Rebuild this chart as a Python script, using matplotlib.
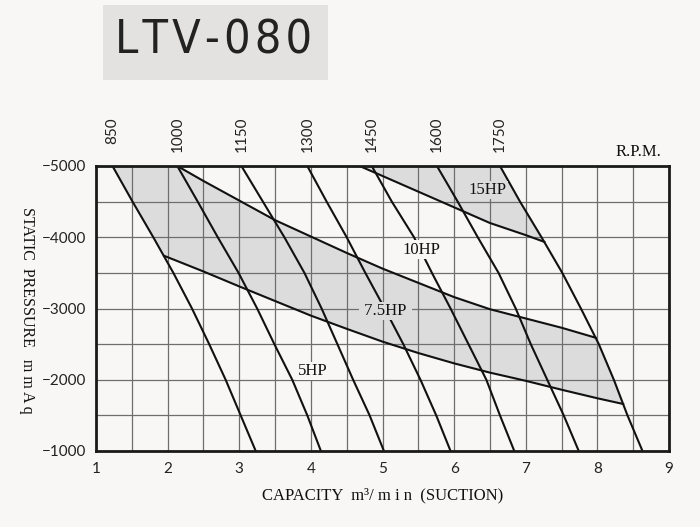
import numpy as np
import matplotlib
matplotlib.use("Agg")
import matplotlib.pyplot as plt
from matplotlib.patches import Polygon, Rectangle

# static pressure levels (mmAq) at which the rpm lines were read
pressure_levels = [-5000, -4500, -4000, -3500, -3000, -2500, -2000, -1500, -1000]

# capacity (m3/min) of each rpm line at those pressure levels
rpm_names = ["850", "1000", "1150", "1300", "1450", "1600", "1750"]
rpm_850 = [1.23, 1.51, 1.80, 2.08, 2.34, 2.58, 2.81, 3.02, 3.23]
rpm_1000 = [2.135, 2.42, 2.70, 2.99, 3.25, 3.49, 3.74, 3.95, 4.14]
rpm_1150 = [3.03, 3.33, 3.63, 3.91, 4.15, 4.37, 4.59, 4.82, 5.02]
rpm_1300 = [3.95, 4.22, 4.50, 4.76, 5.03, 5.29, 5.53, 5.75, 5.95]
rpm_1450 = [4.85, 5.13, 5.44, 5.69, 5.95, 6.20, 6.45, 6.64, 6.84]
rpm_1600 = [5.76, 6.05, 6.33, 6.62, 6.86, 7.07, 7.30, 7.53, 7.74]
rpm_1750 = [6.64, 6.92, 7.22, 7.51, 7.77, 8.02, 8.23, 8.42, 8.63]
rpm_lines = [rpm_850, rpm_1000, rpm_1150, rpm_1300, rpm_1450, rpm_1600, rpm_1750]

# horsepower limit curves
hp75_low_x = [1.95, 2.5, 3.0, 3.5, 4.0, 4.5, 5.0, 5.5, 6.0, 6.5, 7.0, 7.5, 8.0, 8.36]
hp75_low_y = [-3740, -3520, -3310, -3105, -2900, -2715, -2535, -2375, -2230, -2100, -1985, -1860, -1740, -1660]
hp75_up_x = [2.135, 2.5, 3.0, 3.5, 4.0, 4.5, 5.0, 5.5, 6.0, 6.5, 7.0, 7.5, 7.975]
hp75_up_y = [-5000, -4790, -4515, -4240, -4010, -3780, -3560, -3360, -3160, -2990, -2860, -2730, -2590]
hp10_up_x = [4.68, 5.0, 5.5, 6.0, 6.5, 7.0, 7.26]
hp10_up_y = [-5000, -4860, -4640, -4420, -4200, -4030, -3935]

hp_labels = ["15HP", "10HP", "7.5HP", "5HP"]
hp_label_x = [6.47, 5.55, 5.04, 4.02]
hp_label_y = [-4663, -3828, -2965, -2123]

x_ticks = [1, 2, 3, 4, 5, 6, 7, 8, 9]
y_ticks = [-5000, -4000, -3000, -2000, -1000]

BG = "#f8f7f5"
SHADE = "#dcdcdd"
INK = "#111111"

fig = plt.figure(figsize=(7.0, 5.27), dpi=100, facecolor=BG)
ax = fig.add_axes([96 / 700, 76 / 527, 573 / 700, 285 / 527])
ax.set_facecolor(BG)

ax.set_xlim(1, 9)
ax.set_ylim(-1000, -5000)
ax.set_xticks(x_ticks)
ax.set_yticks(y_ticks)
ax.set_xticks(np.arange(1.5, 9, 1.0), minor=True)
ax.set_yticks(np.arange(-4500, -1000, 1000), minor=True)
ax.set_axisbelow(True)
ax.grid(True, which="both", color="#6e6e6e", lw=0.9)
ax.tick_params(which="both", length=0)
ax.tick_params(axis="x", pad=8)
ax.tick_params(axis="y", pad=7)
for lab in ax.get_xticklabels() + ax.get_yticklabels():
    lab.set_family(["Lato", "DejaVu Sans"])
    lab.set_fontsize(11)
    lab.set_color("#222222")
for sp in ax.spines.values():
    sp.set_linewidth(2.0)
    sp.set_color("#1a1a1a")

# 7.5HP band
band75 = [(rpm_850[0], -5000)]
band75 += list(zip(hp75_up_x, hp75_up_y))
band75 += [(x, y) for x, y in zip(rpm_1750, pressure_levels) if hp75_up_y[-1] < y < hp75_low_y[-1]]
band75 += list(zip(hp75_low_x[::-1], hp75_low_y[::-1]))
band75 += [(x, y) for x, y in zip(rpm_850, pressure_levels) if y < hp75_low_y[0]][::-1]
ax.add_patch(Polygon(band75, closed=True, facecolor=SHADE, edgecolor="none", zorder=0.3))

# 15HP band
band15 = [(hp10_up_x[0], -5000)]
band15 += [(x, y) for x, y in zip(rpm_1750, pressure_levels) if y < hp10_up_y[-1]]
band15 += list(zip(hp10_up_x[::-1], hp10_up_y[::-1]))
ax.add_patch(Polygon(band15, closed=True, facecolor=SHADE, edgecolor="none", zorder=0.3))

for line in rpm_lines:
    ax.plot(line, pressure_levels, color=INK, lw=1.5, zorder=2, solid_capstyle="butt")
ax.plot(hp75_low_x, hp75_low_y, color=INK, lw=1.5, zorder=2)
ax.plot(hp75_up_x, hp75_up_y, color=INK, lw=1.5, zorder=2)
ax.plot(hp10_up_x, hp10_up_y, color=INK, lw=1.5, zorder=2)

label_bg = [SHADE, BG, SHADE, BG]
for name, x, y, bg in zip(hp_labels, hp_label_x, hp_label_y, label_bg):
    txt = name if name != "7.5HP" else " 7.5HP "
    ax.text(x, y, txt, ha="center", va="center", fontsize=12,
            family="Liberation Serif", color=INK, zorder=3,
            bbox=dict(boxstyle="square,pad=0.08", facecolor=bg, edgecolor="none"))

# rpm labels above the top edge
for name, line in zip(rpm_names, rpm_lines):
    ax.text(line[0], 1.172, name, transform=ax.get_xaxis_transform(),
            rotation=90, ha="center", va="top", fontsize=11,
            family=["Lato", "DejaVu Sans"], color="#222222")
ax.text(8.57, 1.049, "R.P.M.", transform=ax.get_xaxis_transform(),
        ha="center", va="center", fontsize=12, family="Liberation Serif", color=INK)

ax.set_xlabel("CAPACITY  m\u00b3/ m i n  (SUCTION)", fontsize=12,
              family="Liberation Serif", color=INK, labelpad=8)
fig.text(27 / 700, 1 - 310 / 527, "STATIC  PRESSURE   m m A q", rotation=270,
         ha="center", va="center", fontsize=11.5, family="Liberation Serif", color=INK)

# title plate
fig.patches.append(Rectangle((103 / 700, 1 - 80 / 527), 225 / 700, 75 / 527,
                             transform=fig.transFigure, facecolor="#e3e2e0",
                             edgecolor="none", zorder=0))
fig.text(214 / 700, 1 - 41 / 527, "L\u200aT\u200aV\u200a-\u200a0\u200a8\u200a0",
         ha="center", va="center", fontsize=33.5,
         family=["DejaVu Sans"], fontstretch="condensed", color="#222222")

fig.savefig("out.png", dpi=100, facecolor=BG)
